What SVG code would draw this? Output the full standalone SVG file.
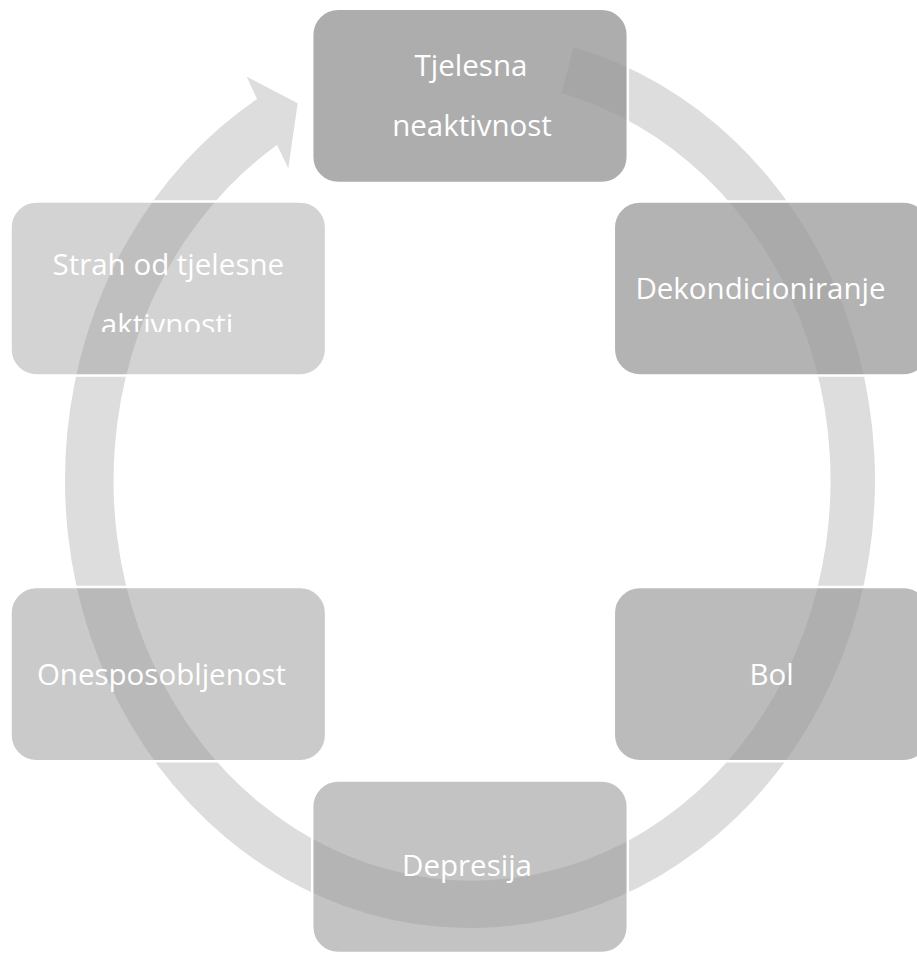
<svg xmlns="http://www.w3.org/2000/svg" width="917" height="953" viewBox="0 0 917 953">
  <style>
    .box { fill: #969696; stroke: #ffffff; stroke-width: 2.5; }
    .lbl { font-family: "Open Sans", "Noto Sans", "DejaVu Sans", sans-serif; font-size: 29.5px; fill: #ffffff; text-anchor: middle; }
  </style>
  <defs>
    <clipPath id="clipStrah">
      <rect x="0" y="190" width="340" height="142"/>
    </clipPath>
  </defs>
  <rect width="917" height="953" fill="#ffffff"/>
  <g id="connectors">
    <path id="cycle-arrow" fill="#dddddd" d="M 573.4 46.9 A 405 448 0 1 1 257 99 L 246.7 76.7 L 297.7 103.3 L 288.3 168.3 L 277 145 A 358.5 400 0 1 0 561.6 93.3 Z"/>
  </g>
  <g id="node-tjelesna-neaktivnost">
    <rect class="box" x="312.2" y="8.8" width="315.6" height="174.2" rx="26" fill-opacity="0.78"/>
    <text class="lbl" x="471" y="76">Tjelesna</text>
    <text class="lbl" x="472" y="136">neaktivnost</text>
  </g>
  <g id="node-dekondicioniranje">
    <rect class="box" x="613.8" y="201.5" width="315.6" height="174" rx="26" fill-opacity="0.72"/>
    <text class="lbl" x="760.5" y="298.5">Dekondicioniranje</text>
  </g>
  <g id="node-bol">
    <rect class="box" x="613.8" y="587" width="315.6" height="174.2" rx="26" fill-opacity="0.65"/>
    <text class="lbl" x="771.5" y="685">Bol</text>
  </g>
  <g id="node-depresija">
    <rect class="box" x="312.2" y="780.5" width="315.6" height="172.5" rx="26" fill-opacity="0.57"/>
    <text class="lbl" x="467" y="876">Depresija</text>
  </g>
  <g id="node-onesposobljenost">
    <rect class="box" x="10.5" y="587" width="315.6" height="174.2" rx="26" fill-opacity="0.5"/>
    <text class="lbl" x="161.5" y="685">Onesposobljenost</text>
  </g>
  <g id="node-strah">
    <rect class="box" x="10.5" y="201.5" width="315.6" height="174" rx="26" fill-opacity="0.42"/>
    <text class="lbl" x="168.3" y="275">Strah od tjelesne</text>
    <text class="lbl" x="167" y="335" clip-path="url(#clipStrah)">aktivnosti</text>
  </g>
</svg>
